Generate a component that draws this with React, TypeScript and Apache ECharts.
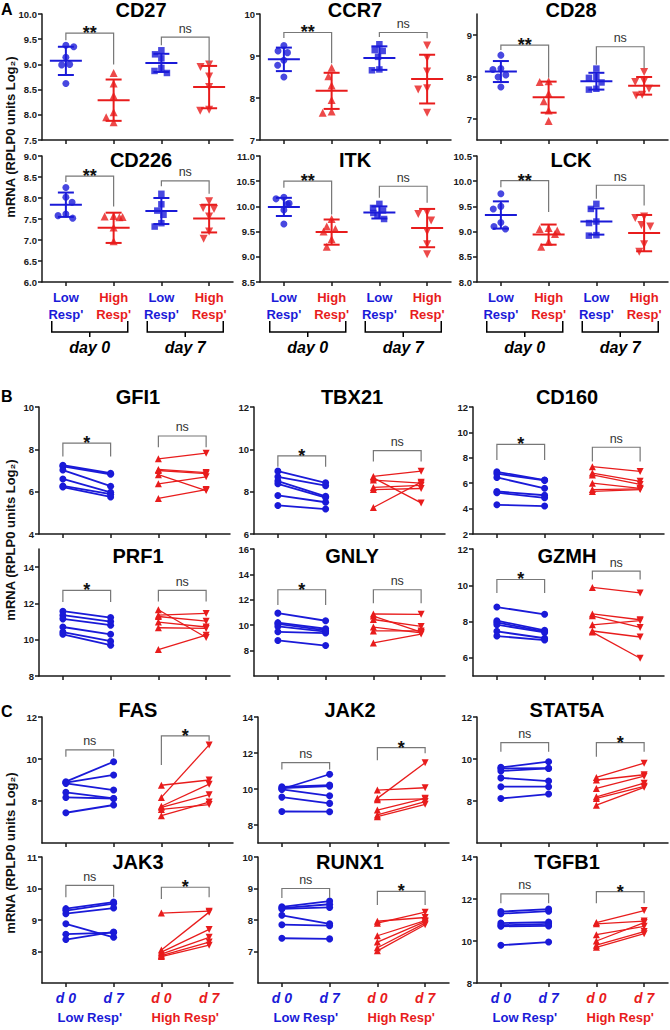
import React, { useEffect, useRef } from 'react';
import * as echarts from 'echarts';

const BLUE = '#1a1ad8';
const RED = '#e81c1c';
const INK = '#1a1a1a';
const FONT = '"Liberation Sans", Arial, Helvetica, sans-serif';

// ---------------- Panel A: scatter + mean ± SD  (Low d0, High d0, Low d7, High d7)
const A_XLABELS = ["Low\nResp'", "High\nResp'", "Low\nResp'", "High\nResp'"];
const A_SIG_LABELS = ['**', 'ns'];
const A_DAY_LABELS = ['day 0', 'day 7'];

const CD27_PTS = [[9.38, 9.35, 9.14, 9.0, 8.99, 8.62], [8.83, 8.62, 8.38, 8.05, 7.95, 7.85], [9.28, 9.2, 9.12, 8.93, 8.87, 8.83], [9.0, 8.95, 8.76, 8.55, 8.1, 8.08]];
const CD27_MEAN = [9.07, 8.29, 9.03, 8.55];
const CD27_SD = [0.28, 0.41, 0.18, 0.42];
const CD27_RANGE = [7.5, 10];
const CD27_TICKS = ['7.5', '8.0', '8.5', '9.0', '9.5', '10.0'];
const CD27_SIG = [[9.62, 9.48, 9.0], [9.54, 9.38, 9.03]];

const CCR7_PTS = [[9.25, 9.12, 9.08, 8.9, 8.78, 8.5], [8.72, 8.52, 8.3, 7.95, 7.68, 7.65], [9.28, 9.14, 9.12, 8.98, 8.68, 8.66], [9.25, 8.95, 8.63, 8.23, 8.2, 7.65]];
const CCR7_MEAN = [8.92, 8.17, 8.95, 8.45];
const CCR7_SD = [0.28, 0.43, 0.28, 0.58];
const CCR7_RANGE = [7, 10];
const CCR7_TICKS = ['7', '8', '9', '10'];
const CCR7_SIG = [[9.56, 9.43, 8.83], [9.56, 9.45, 9.42]];

const CD28_PTS = [[8.52, 8.2, 8.18, 8.05, 8.0, 7.76], [7.9, 7.88, 7.6, 7.42, 7.2, 6.95], [8.2, 8.0, 7.98, 7.87, 7.72, 7.7], [8.12, 7.9, 7.88, 7.72, 7.58, 7.56]];
const CD28_MEAN = [8.13, 7.52, 7.9, 7.79];
const CD28_SD = [0.25, 0.37, 0.2, 0.21];
const CD28_RANGE = [6.5, 9.5];
const CD28_TICKS = ['7', '8', '9'];
const CD28_SIG = [[8.76, 8.64, 7.98], [8.72, 8.29, 8.21]];

const CD226_PTS = [[8.25, 8.02, 7.9, 7.62, 7.58, 7.52], [7.57, 7.56, 7.55, 7.54, 7.3, 6.97], [8.1, 7.85, 7.7, 7.6, 7.4, 7.32], [7.92, 7.76, 7.74, 7.56, 7.2, 7.03]];
const CD226_MEAN = [7.84, 7.29, 7.69, 7.51];
const CD226_SD = [0.29, 0.36, 0.31, 0.33];
const CD226_RANGE = [6, 9];
const CD226_TICKS = ['6.0', '6.5', '7.0', '7.5', '8.0', '8.5', '9.0'];
const CD226_SIG = [[8.52, 8.38, 7.8], [8.41, 8.28, 8.1]];

const ITK_PTS = [[10.18, 10.15, 10.06, 10.04, 9.93, 9.65], [9.75, 9.6, 9.55, 9.5, 9.35, 9.2], [10.05, 9.97, 9.92, 9.87, 9.82, 9.75], [9.88, 9.85, 9.72, 9.5, 9.25, 9.05]];
const ITK_MEAN = [9.99, 9.49, 9.88, 9.57];
const ITK_SD = [0.18, 0.25, 0.12, 0.38];
const ITK_RANGE = [8.5, 11];
const ITK_TICKS = ['8.5', '9.0', '9.5', '10.0', '10.5', '11.0'];
const ITK_SIG = [[10.5, 10.37, 9.84], [10.4, 10.17, 10.07]];

const LCK_PTS = [[9.75, 9.5, 9.45, 9.18, 9.1, 9.05], [9.07, 9.05, 9.02, 8.95, 8.8, 8.7], [9.55, 9.45, 9.2, 9.17, 8.93, 8.92], [9.3, 9.27, 9.13, 9.1, 8.75, 8.6]];
const LCK_MEAN = [9.33, 8.94, 9.2, 8.97];
const LCK_SD = [0.27, 0.2, 0.26, 0.36];
const LCK_RANGE = [8, 10.5];
const LCK_TICKS = ['8.0', '8.5', '9.0', '9.5', '10.0', '10.5'];
const LCK_SIG = [[10.01, 9.88, 9.39], [9.92, 9.65, 9.52]];

const PANELS_A = [
  { name: 'CD27', pts: CD27_PTS, mean: CD27_MEAN, sd: CD27_SD, range: CD27_RANGE, ticks: CD27_TICKS, sig: CD27_SIG },
  { name: 'CCR7', pts: CCR7_PTS, mean: CCR7_MEAN, sd: CCR7_SD, range: CCR7_RANGE, ticks: CCR7_TICKS, sig: CCR7_SIG },
  { name: 'CD28', pts: CD28_PTS, mean: CD28_MEAN, sd: CD28_SD, range: CD28_RANGE, ticks: CD28_TICKS, sig: CD28_SIG },
  { name: 'CD226', pts: CD226_PTS, mean: CD226_MEAN, sd: CD226_SD, range: CD226_RANGE, ticks: CD226_TICKS, sig: CD226_SIG },
  { name: 'ITK', pts: ITK_PTS, mean: ITK_MEAN, sd: ITK_SD, range: ITK_RANGE, ticks: ITK_TICKS, sig: ITK_SIG },
  { name: 'LCK', pts: LCK_PTS, mean: LCK_MEAN, sd: LCK_SD, range: LCK_RANGE, ticks: LCK_TICKS, sig: LCK_SIG },
];

// ---------------- Panels B & C: paired values [day0, day7] per donor
const B_SIG_LABELS = ['*', 'ns'];
const C_SIG_LABELS = ['ns', '*'];
const C_XLABELS = ['d 0', 'd 7', 'd 0', 'd 7'];
const C_GROUP_LABELS = ["Low Resp'", "High Resp'"];

const GFI1_LOW = [[7.25, 7.2, 7.02, 6.6, 6.27, 6.22], [6.87, 6.82, 6.26, 5.97, 5.88, 5.75]];
const GFI1_HIGH = [[7.55, 7.05, 7.0, 6.8, 6.37, 5.68], [7.82, 6.9, 6.85, 6.05, 6.7, 6.1]];
const GFI1_RANGE = [4, 10];
const GFI1_TICKS = ['4', '6', '8', '10'];
const GFI1_SIG = [[8.29, 7.66, 7.66], [8.63, 8.1, 8.1]];

const TBX21_LOW = [[8.97, 8.7, 8.5, 8.37, 7.82, 7.35], [8.42, 8.28, 7.78, 7.72, 7.5, 7.18]];
const TBX21_HIGH = [[8.72, 8.65, 8.55, 8.2, 8.1, 7.25], [8.97, 7.47, 8.4, 8.3, 8.15, 8.45]];
const TBX21_RANGE = [6, 12];
const TBX21_TICKS = ['6', '8', '10', '12'];
const TBX21_SIG = [[9.69, 9.18, 9.18], [9.94, 9.42, 9.42]];

const CD160_LOW = [[6.9, 6.75, 6.45, 5.35, 5.25, 4.3], [6.25, 6.22, 5.6, 5.05, 4.85, 4.2]];
const CD160_HIGH = [[7.3, 6.8, 6.65, 6.0, 5.5, 5.35], [6.93, 6.15, 5.9, 5.6, 5.55, 5.5]];
const CD160_RANGE = [2, 12];
const CD160_TICKS = ['2', '4', '6', '8', '10', '12'];
const CD160_SIG = [[9.06, 7.83, 7.83], [8.83, 7.7, 7.7]];

const PRF1_LOW = [[11.57, 11.35, 11.15, 10.7, 10.42, 10.3], [11.22, 11.0, 10.8, 10.3, 9.92, 9.7]];
const PRF1_HIGH = [[11.65, 11.35, 11.28, 10.97, 10.66, 9.46], [10.12, 11.45, 11.02, 10.7, 10.62, 10.25]];
const PRF1_RANGE = [8, 15];
const PRF1_TICKS = ['8', '10', '12', '14'];
const PRF1_SIG = [[12.72, 12.08, 12.08], [12.72, 12.1, 12.1]];

const GNLY_LOW = [[10.95, 10.2, 10.1, 9.9, 9.48, 8.8], [10.35, 9.72, 9.6, 9.5, 9.38, 8.4]];
const GNLY_HIGH = [[10.88, 10.72, 10.45, 9.85, 9.55, 8.6], [10.86, 9.45, 9.9, 9.4, 9.55, 9.3]];
const GNLY_RANGE = [6, 16];
const GNLY_TICKS = ['8', '10', '12', '14', '16'];
const GNLY_SIG = [[12.79, 11.6, 11.6], [12.79, 11.73, 11.73]];

const GZMH_LOW = [[8.8, 8.05, 7.95, 7.83, 7.46, 7.2], [8.4, 7.52, 7.45, 7.4, 7.08, 6.98]];
const GZMH_HIGH = [[9.88, 8.42, 8.32, 7.82, 7.48, 7.42], [9.58, 8.1, 7.68, 8.05, 7.15, 5.98]];
const GZMH_RANGE = [5, 12];
const GZMH_TICKS = ['6', '8', '10', '12'];
const GZMH_SIG = [[10.32, 9.57, 9.57], [10.78, 10.32, 10.32]];

const FAS_LOW = [[8.92, 8.88, 8.84, 8.41, 8.17, 7.44], [9.87, 9.24, 8.52, 8.12, 8.12, 7.81]];
const FAS_HIGH = [[8.75, 8.17, 7.75, 7.7, 7.6, 7.3], [9.0, 10.67, 8.8, 8.3, 7.83, 7.95]];
const FAS_RANGE = [6, 12];
const FAS_TICKS = ['8', '10', '12'];
const FAS_SIG = [[10.43, 10.11, 10.11], [11.1, 9.71, 10.87]];

const JAK2_LOW = [[10.0, 10.12, 10.05, 9.98, 9.55, 8.75], [10.82, 10.22, 10.16, 9.62, 9.2, 8.74]];
const JAK2_HIGH = [[9.94, 9.48, 9.4, 8.83, 8.56, 8.46], [10.07, 11.46, 9.45, 9.48, 9.3, 9.15]];
const JAK2_RANGE = [7, 14];
const JAK2_TICKS = ['8', '10', '12', '14'];
const JAK2_SIG = [[11.46, 11.09, 11.09], [12.3, 11.6, 11.98]];

const STAT5A_LOW = [[9.6, 9.55, 9.43, 9.1, 8.68, 8.12], [9.87, 9.56, 9.55, 8.95, 8.68, 8.33]];
const STAT5A_HIGH = [[9.12, 9.0, 8.6, 8.2, 8.12, 7.8], [9.8, 9.25, 9.18, 8.85, 8.7, 8.65]];
const STAT5A_RANGE = [6, 12];
const STAT5A_TICKS = ['8', '10', '12'];
const STAT5A_SIG = [[10.78, 10.35, 10.35], [10.78, 10.11, 10.35]];

const JAK3_LOW = [[9.36, 9.3, 9.2, 8.88, 8.55, 8.38], [9.57, 9.52, 9.38, 8.45, 8.6, 8.62]];
const JAK3_HIGH = [[9.22, 8.05, 7.98, 7.92, 7.87, 7.84], [9.28, 9.25, 8.7, 8.45, 8.3, 8.2]];
const JAK3_RANGE = [7, 11];
const JAK3_TICKS = ['8', '9', '10', '11'];
const JAK3_SIG = [[10.1, 9.72, 9.72], [10.04, 9.67, 9.72]];

const RUNX1_LOW = [[8.42, 8.38, 8.35, 8.15, 7.85, 7.42], [8.6, 8.5, 8.4, 7.88, 7.82, 7.4]];
const RUNX1_HIGH = [[7.96, 7.9, 7.5, 7.3, 7.12, 7.02], [8.08, 8.25, 7.98, 7.95, 7.9, 7.85]];
const RUNX1_RANGE = [6, 10];
const RUNX1_TICKS = ['7', '8', '9', '10'];
const RUNX1_SIG = [[9.0, 8.7, 8.7], [8.91, 8.48, 8.48]];

const TGFB1_LOW = [[11.4, 11.3, 10.85, 10.75, 10.7, 9.8], [11.52, 11.42, 10.9, 10.82, 10.72, 9.95]];
const TGFB1_HIGH = [[10.88, 10.82, 10.3, 10.0, 9.8, 9.7], [11.45, 10.95, 10.7, 10.88, 10.45, 10.35]];
const TGFB1_RANGE = [8, 14];
const TGFB1_TICKS = ['8', '10', '12', '14'];
const TGFB1_SIG = [[12.24, 11.8, 11.8], [12.35, 11.8, 11.8]];

const PANELS_B = [
  { name: 'GFI1', low: GFI1_LOW, high: GFI1_HIGH, range: GFI1_RANGE, ticks: GFI1_TICKS, sig: GFI1_SIG },
  { name: 'TBX21', low: TBX21_LOW, high: TBX21_HIGH, range: TBX21_RANGE, ticks: TBX21_TICKS, sig: TBX21_SIG },
  { name: 'CD160', low: CD160_LOW, high: CD160_HIGH, range: CD160_RANGE, ticks: CD160_TICKS, sig: CD160_SIG },
  { name: 'PRF1', low: PRF1_LOW, high: PRF1_HIGH, range: PRF1_RANGE, ticks: PRF1_TICKS, sig: PRF1_SIG },
  { name: 'GNLY', low: GNLY_LOW, high: GNLY_HIGH, range: GNLY_RANGE, ticks: GNLY_TICKS, sig: GNLY_SIG },
  { name: 'GZMH', low: GZMH_LOW, high: GZMH_HIGH, range: GZMH_RANGE, ticks: GZMH_TICKS, sig: GZMH_SIG },
];
const PANELS_C = [
  { name: 'FAS', low: FAS_LOW, high: FAS_HIGH, range: FAS_RANGE, ticks: FAS_TICKS, sig: FAS_SIG },
  { name: 'JAK2', low: JAK2_LOW, high: JAK2_HIGH, range: JAK2_RANGE, ticks: JAK2_TICKS, sig: JAK2_SIG },
  { name: 'STAT5A', low: STAT5A_LOW, high: STAT5A_HIGH, range: STAT5A_RANGE, ticks: STAT5A_TICKS, sig: STAT5A_SIG },
  { name: 'JAK3', low: JAK3_LOW, high: JAK3_HIGH, range: JAK3_RANGE, ticks: JAK3_TICKS, sig: JAK3_SIG },
  { name: 'RUNX1', low: RUNX1_LOW, high: RUNX1_HIGH, range: RUNX1_RANGE, ticks: RUNX1_TICKS, sig: RUNX1_SIG },
  { name: 'TGFB1', low: TGFB1_LOW, high: TGFB1_HIGH, range: TGFB1_RANGE, ticks: TGFB1_TICKS, sig: TGFB1_SIG },
];

const Y_NAME = 'mRNA (RPLP0 units Log\u2082)';

// ---------------- layout (pixels)
const W = 191;
const SECTIONS = [
  { letter: 'A', lefts: [42, 260, 477], tops: [14, 156], h: 126, titleX: [141, 355, 571], titleY: [10, 160], letterY: 9, nameY: 137 },
  { letter: 'B', lefts: [39, 254, 473], tops: [407, 549], h: 127, titleX: [138, 352, 567], titleY: [397, 556], letterY: 396, nameY: 540 },
  { letter: 'C', lefts: [42, 258, 477], tops: [717, 857], h: 126, titleX: [138, 350, 567], titleY: [710, 862], letterY: 711, nameY: 853 },
];

const lineSt = { color: INK, width: 1.5 };

function makeY(gridIndex: number, range: number[], ticks: string[]) {
  const vals = ticks.map(Number);
  const dec = ticks[ticks.length - 1].indexOf('.') >= 0 ? 1 : 0;
  return {
    type: 'value', gridIndex, min: range[0], max: range[1],
    axisLine: { show: true, lineStyle: lineSt },
    axisTick: { show: true, length: 4, customValues: vals, lineStyle: lineSt },
    axisLabel: { show: true, customValues: vals, formatter: (v: number) => v.toFixed(dec), fontSize: 9.5, fontWeight: 'bold', color: INK, margin: 5, fontFamily: FONT },
    splitLine: { show: false },
  };
}

function makeX(gridIndex: number, labelOpt: any, jitter: boolean) {
  const ax: any = {
    type: 'category', gridIndex, data: ['0', '1', '2', '3'], boundaryGap: true,
    axisLine: { show: true, lineStyle: lineSt },
    axisTick: { show: true, alignWithLabel: true, interval: 0, length: 4, lineStyle: lineSt },
    axisLabel: labelOpt || { show: false },
    splitLine: { show: false },
  };
  if (jitter) { ax.jitter = 20; ax.jitterOverlap = false; ax.jitterMargin = 1; }
  return ax;
}

const errRender = (params: any, api: any) => {
  const g = api.value(0), m = api.value(1), s = api.value(2);
  const c = api.coord([g, m]);
  const t = api.coord([g, m + s]);
  const b = api.coord([g, m - s]);
  const st = { stroke: g % 2 ? RED : BLUE, lineWidth: 2 };
  return {
    type: 'group', children: [
      { type: 'line', shape: { x1: c[0] - 16, y1: c[1], x2: c[0] + 16, y2: c[1] }, style: st },
      { type: 'line', shape: { x1: c[0], y1: t[1], x2: c[0], y2: b[1] }, style: st },
      { type: 'line', shape: { x1: c[0] - 8, y1: t[1], x2: c[0] + 8, y2: t[1] }, style: st },
      { type: 'line', shape: { x1: c[0] - 8, y1: b[1], x2: c[0] + 8, y2: b[1] }, style: st },
    ],
  };
};

function bracketSeries(axis: number, sig: number[][], labels: string[]) {
  return {
    type: 'custom', xAxisIndex: axis, yAxisIndex: axis, z: 5, silent: true,
    data: sig.map((s, j) => [j * 2, s[0], s[1], s[2], j]),
    encode: { x: 0, y: 1 },
    renderItem: (params: any, api: any) => {
      const g = api.value(0), top = api.value(1), le = api.value(2), re = api.value(3), j = api.value(4);
      const a = api.coord([g, top]);
      const b = api.coord([g + 1, top]);
      const al = api.coord([g, le]);
      const br = api.coord([g + 1, re]);
      const lbl = labels[j];
      const isNs = lbl === 'ns';
      return {
        type: 'group', children: [
          { type: 'polyline', shape: { points: [[a[0], al[1]], [a[0], a[1]], [b[0], b[1]], [b[0], br[1]]] }, style: { stroke: '#777', lineWidth: 1.2, fill: null } },
          { type: 'text', style: { text: lbl, x: (a[0] + b[0]) / 2, y: isNs ? a[1] - 2 : a[1] + 9, align: 'center', verticalAlign: 'bottom', fontSize: isNs ? 12.5 : 18, fontWeight: isNs ? 'normal' : 'bold', fill: isNs ? '#333' : '#111', fontFamily: FONT } },
        ],
      };
    },
  };
}

function buildOption() {
  const grid: any[] = [], xAxis: any[] = [], yAxis: any[] = [], series: any[] = [], graphic: any[] = [];

  const aRich = {
    b: { color: BLUE, fontWeight: 'bold', fontSize: 13, lineHeight: 17, fontFamily: FONT },
    r: { color: RED, fontWeight: 'bold', fontSize: 13, lineHeight: 17, fontFamily: FONT },
  };
  const aLabel = {
    show: true, interval: 0, margin: 7,
    formatter: (v: string, i: number) => A_XLABELS[i].split('\n').map((s) => `{${i % 2 ? 'r' : 'b'}|${s}}`).join('\n'),
    rich: aRich,
  };
  const cRich = {
    b: { color: BLUE, fontWeight: 'bold', fontStyle: 'italic', fontSize: 14, fontFamily: FONT },
    r: { color: RED, fontWeight: 'bold', fontStyle: 'italic', fontSize: 14, fontFamily: FONT },
  };
  const cLabel = {
    show: true, interval: 0, margin: 8,
    formatter: (v: string, i: number) => `{${i < 2 ? 'b' : 'r'}|${C_XLABELS[i]}}`,
    rich: cRich,
  };

  const allPanels: any[] = [
    ...PANELS_A.map((p) => ({ ...p, sec: 0 })),
    ...PANELS_B.map((p) => ({ ...p, sec: 1 })),
    ...PANELS_C.map((p) => ({ ...p, sec: 2 })),
  ];

  allPanels.forEach((p, k) => {
    const sec = SECTIONS[p.sec];
    const local = k % 6;
    const row = Math.floor(local / 3), col = local % 3;
    const left = sec.lefts[col], top = sec.tops[row];
    grid.push({ left, top, width: W, height: sec.h, containLabel: false, outerBoundsMode: 'none' });
    let lab: any = null;
    if (p.sec === 0 && row === 1) lab = aLabel;
    if (p.sec === 2 && row === 1) lab = cLabel;
    xAxis.push(makeX(k, lab, p.sec === 0));
    yAxis.push(makeY(k, p.range, p.ticks));
    graphic.push({ type: 'text', x: sec.titleX[col], y: sec.titleY[row], z: 10, style: { text: p.name, align: 'center', verticalAlign: 'middle', fontSize: 20, fontWeight: 'bold', fill: '#000', fontFamily: FONT } });

    if (p.sec === 0) {
      const syms = ['circle', 'triangle', 'rect', 'triangle'];
      p.pts.forEach((arr: number[], g: number) => {
        series.push({
          type: 'scatter', xAxisIndex: k, yAxisIndex: k, z: 3,
          data: arr.map((v) => [g, v]),
          symbol: syms[g], symbolRotate: g === 3 ? 180 : 0,
          symbolSize: g === 2 ? 6.5 : g === 0 ? 7 : 8,
          itemStyle: { color: g % 2 ? RED : BLUE },
        });
      });
      series.push({
        type: 'custom', xAxisIndex: k, yAxisIndex: k, z: 4, silent: true,
        data: p.mean.map((m: number, g: number) => [g, m, p.sd[g]]),
        encode: { x: 0, y: 1 },
        renderItem: errRender,
      });
      series.push(bracketSeries(k, p.sig, A_SIG_LABELS));
    } else {
      [p.low, p.high].forEach((grp: number[][], h: number) => {
        const color = h ? RED : BLUE;
        grp[0].forEach((v0: number, i: number) => {
          series.push({
            type: 'line', xAxisIndex: k, yAxisIndex: k, z: 3,
            data: [
              { value: [h * 2, v0], symbol: h ? 'triangle' : 'circle' },
              { value: [h * 2 + 1, grp[1][i]], symbol: h ? 'triangle' : 'circle', symbolRotate: h ? 180 : 0 },
            ],
            symbolSize: 7,
            lineStyle: { color, width: h ? 1.3 : 1.8 },
            itemStyle: { color },
          });
        });
      });
      series.push(bracketSeries(k, p.sig, p.sec === 1 ? B_SIG_LABELS : C_SIG_LABELS));
    }
  });

  // section letters and y names
  SECTIONS.forEach((sec) => {
    graphic.push({ type: 'text', x: 1, y: sec.letterY, style: { text: sec.letter, align: 'left', verticalAlign: 'middle', fontSize: 16, fontWeight: 'bold', fill: '#000', fontFamily: FONT } });
    graphic.push({ type: 'text', x: 10, y: sec.nameY, rotation: Math.PI / 2, style: { text: Y_NAME, align: 'center', verticalAlign: 'middle', fontSize: 13, fontWeight: 'bold', fill: '#111', fontFamily: FONT } });
  });

  // panel A: day brackets under the bottom row
  SECTIONS[0].lefts.forEach((left) => {
    A_DAY_LABELS.forEach((lbl, j) => {
      const cx = left + W * (0.25 + 0.5 * j);
      graphic.push({ type: 'polyline', shape: { points: [[cx - 38, 321], [cx - 38, 332], [cx + 38, 332], [cx + 38, 321]] }, style: { stroke: '#000', lineWidth: 1.5, fill: null } });
      graphic.push({ type: 'line', shape: { x1: cx, y1: 332, x2: cx, y2: 337 }, style: { stroke: '#000', lineWidth: 1.5 } });
      graphic.push({ type: 'text', x: cx, y: 347, style: { text: lbl, align: 'center', verticalAlign: 'middle', fontSize: 16, fontWeight: 'bold', fontStyle: 'italic', fill: '#000', fontFamily: FONT } });
    });
  });

  // panel C: group labels under the bottom row
  SECTIONS[2].lefts.forEach((left) => {
    C_GROUP_LABELS.forEach((lbl, j) => {
      graphic.push({ type: 'text', x: left + W * (0.25 + 0.5 * j), y: 1017, style: { text: lbl, align: 'center', verticalAlign: 'middle', fontSize: 13, fontWeight: 'bold', fill: j ? RED : BLUE, fontFamily: FONT } });
    });
  });

  return {
    animation: false,
    backgroundColor: '#fff',
    textStyle: { fontFamily: FONT },
    grid, xAxis, yAxis, series, graphic,
  };
}

export default function App() {
  const ref = useRef<HTMLDivElement>(null);
  useEffect(() => {
    document.body.style.margin = '0';
    const chart = echarts.init(ref.current as HTMLDivElement, null, { renderer: 'svg' });
    chart.setOption(buildOption() as any);
    return () => chart.dispose();
  }, []);
  return <div ref={ref} style={{ position: 'absolute', left: 0, top: 0, width: 670, height: 1030, background: '#fff' }} />;
}
